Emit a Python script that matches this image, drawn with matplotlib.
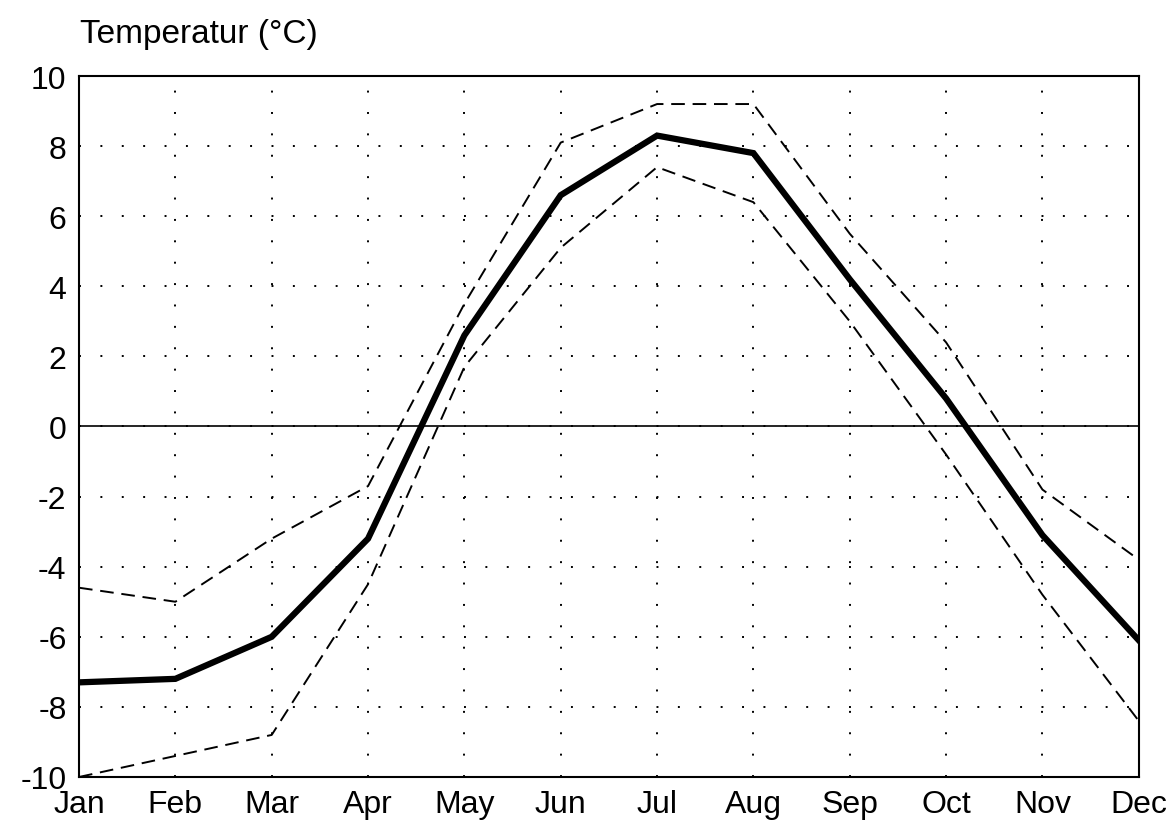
import matplotlib
matplotlib.use("Agg")
import matplotlib.pyplot as plt

months = ["Jan", "Feb", "Mar", "Apr", "May", "Jun", "Jul", "Aug", "Sep", "Oct", "Nov", "Dec"]
mean_temp = [-7.3, -7.2, -6.0, -3.2, 2.6, 6.6, 8.3, 7.8, 4.2, 0.8, -3.1, -6.1]
upper_temp = [-4.6, -5.0, -3.2, -1.7, 3.5, 8.1, 9.2, 9.2, 5.5, 2.4, -1.8, -3.8]
lower_temp = [-10.0, -9.4, -8.8, -4.5, 1.7, 5.1, 7.4, 6.4, 3.0, -0.8, -4.8, -8.4]
yticks = [-10, -8, -6, -4, -2, 0, 2, 4, 6, 8, 10]

plt.rcParams['font.family'] = ['Liberation Sans', 'DejaVu Sans']

fig = plt.figure(figsize=(11.74, 8.28), dpi=100)
ax = fig.add_axes([0.0673, 0.0604, 0.9027, 0.8466])

x = list(range(len(months)))
ax.plot(x, upper_temp, color='black', lw=1.4, linestyle=(0, (7, 4)), zorder=3)
ax.plot(x, lower_temp, color='black', lw=1.4, linestyle=(0, (7, 4)), zorder=3)
ax.plot(x, mean_temp, color='black', lw=4.5, solid_joinstyle='miter', zorder=4)
ax.axhline(0, color='black', lw=1.2, zorder=2)

ax.set_xlim(0, len(months) - 1)
ax.set_ylim(-10, 10)
ax.set_xticks(x)
ax.set_xticklabels(months)
ax.set_yticks(yticks)
ax.set_yticklabels([str(v) for v in yticks])
ax.tick_params(axis='both', length=0, labelsize=23, colors='black')
ax.tick_params(axis='y', pad=9)
ax.tick_params(axis='x', pad=9)

ax.grid(True, color='black', lw=1.4, linestyle=(0, (1, 10)))
for s in ax.spines.values():
    s.set_linewidth(1.5)
    s.set_color('black')

fig.text(0.068, 0.948, "Temperatur (°C)", fontsize=24, ha='left', va='baseline')

fig.savefig("out.png", dpi=100, facecolor='white')
